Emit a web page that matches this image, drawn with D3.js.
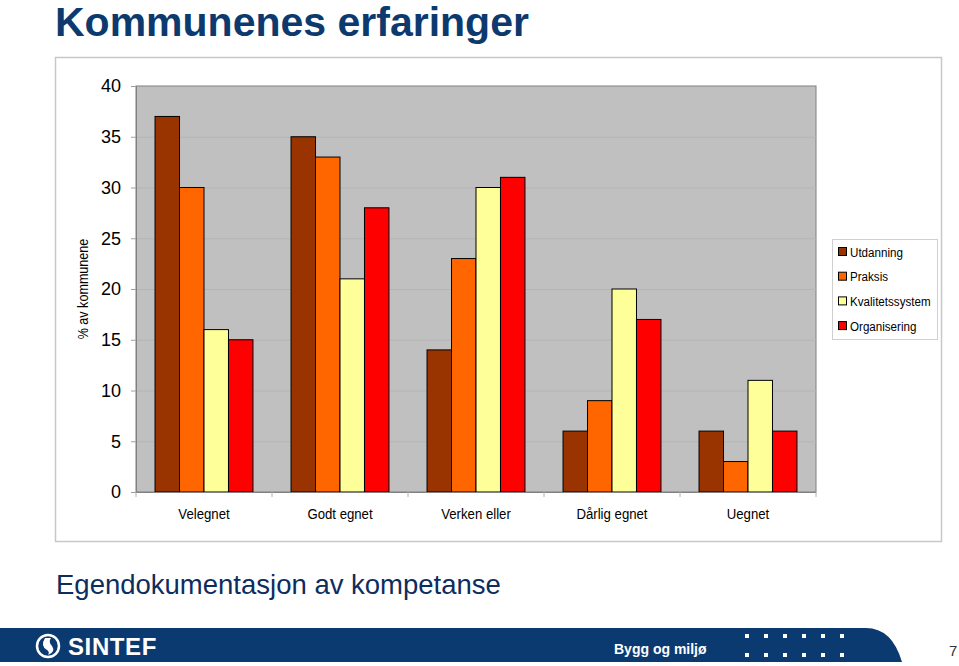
<!DOCTYPE html>
<html><head><meta charset="utf-8">
<script src="https://cdn.jsdelivr.net/npm/d3@7"></script>
<style>body{margin:0;background:#fff;}svg{display:block;font-family:"Liberation Sans",Arial,sans-serif;}</style>
</head><body>
<svg id="c" width="959" height="666"></svg>
<script>
const categories = ["Velegnet","Godt egnet","Verken eller","Dårlig egnet","Uegnet"];
const seriesNames = ["Utdanning","Praksis","Kvalitetssystem","Organisering"];
const utdanning = [37,35,14,6,6];
const praksis = [30,33,23,9,3];
const kvalitetssystem = [16,21,30,20,11];
const organisering = [15,28,31,17,6];
const yTicks = [0,5,10,15,20,25,30,35,40];
const colors = ["#993300","#FF6600","#FFFF99","#FF0000"];
const seriesValues = [utdanning, praksis, kvalitetssystem, organisering];

const svg = d3.select("#c");
// title
svg.append("text").attr("x",55).attr("y",36).attr("font-size",41).attr("font-weight","bold")
  .attr("fill","#0D3A6E").text("Kommunenes erfaringer");

// chart frame
svg.append("rect").attr("x",55.5).attr("y",57.5).attr("width",886).attr("height",484)
  .attr("fill","#fff").attr("stroke","#c8c8c8").attr("stroke-width",1.5);

const x0 = d3.scaleBand().domain(categories).range([136,816]).paddingInner(0.28).paddingOuter(0.14);
const x1 = d3.scaleBand().domain(seriesNames).range([0,x0.bandwidth()]);
const y = d3.scaleLinear().domain([0,40]).range([492,86]);

svg.append("rect").attr("x",136).attr("y",y(40)).attr("width",680).attr("height",y(0)-y(40))
  .attr("fill","#C0C0C0").attr("stroke","#808080").attr("stroke-width",1);

// gridlines
svg.append("g").selectAll("line").data(yTicks.filter(d=>d>0 && d<40)).join("line")
  .attr("x1",136).attr("x2",816).attr("y1",d=>y(d)+0.5).attr("y2",d=>y(d)+0.5)
  .attr("stroke","#B4B4B4").attr("stroke-width",1);

// bars
const g = svg.append("g");
categories.forEach((c,i)=>{
  seriesNames.forEach((s,j)=>{
    const v = seriesValues[j][i];
    g.append("rect").attr("x",x0(c)+x1(s)).attr("y",y(v)).attr("width",x1.bandwidth())
      .attr("height",y(0)-y(v)).attr("fill",colors[j]).attr("stroke","#000").attr("stroke-width",1);
  });
});

// y axis
const yAxis = d3.axisLeft(y).tickValues(yTicks).tickSize(5).tickPadding(10);
const ya = svg.append("g").attr("transform","translate(136,0)").call(yAxis);
ya.select(".domain").attr("stroke","#808080");
ya.selectAll(".tick line").attr("stroke","#a0a0a0");
ya.selectAll("text").attr("font-size",18).attr("fill","#000").attr("font-family","'Liberation Sans',Arial,sans-serif");

// x axis
const xa = svg.append("g").attr("transform","translate(0,492)");
xa.append("line").attr("x1",136).attr("x2",816).attr("y1",0.5).attr("y2",0.5).attr("stroke","#808080");
const step = 680/categories.length;
xa.selectAll(".tk").data(d3.range(categories.length+1)).join("line")
  .attr("x1",d=>136+d*step).attr("x2",d=>136+d*step).attr("y1",0).attr("y2",5).attr("stroke","#b0b0b0");
xa.selectAll("g.lbl").data(categories).join("g")
  .attr("transform",c=>`translate(${x0(c)+x0.bandwidth()/2},27) scale(0.88,1)`)
  .append("text").attr("text-anchor","middle").attr("font-size",15).attr("fill","#000").text(d=>d);

// y title
svg.append("text").attr("transform","translate(88,289) rotate(-90) scale(0.9,1)").attr("text-anchor","middle")
  .attr("font-size",14).text("% av kommunene");

// legend
const lg = svg.append("g");
lg.append("rect").attr("x",832.5).attr("y",239.5).attr("width",105).attr("height",100)
  .attr("fill","#fff").attr("stroke","#d0d0d0");
seriesNames.forEach((s,j)=>{
  const yy = 252 + j*24.7;
  lg.append("rect").attr("x",838.5).attr("y",yy-4.5).attr("width",8).attr("height",8)
    .attr("fill",colors[j]).attr("stroke","#000");
  lg.append("text").attr("transform",`translate(850,${yy+4.5}) scale(0.86,1)`).attr("font-size",13.5).text(s);
});

// subtitle
svg.append("text").attr("x",56).attr("y",594).attr("font-size",27.5).attr("fill","#0D2D5E")
  .text("Egendokumentasjon av kompetanse");

// footer band
svg.append("path").attr("d","M0,628 L866,628 Q892,628 902,662 L0,662 Z").attr("fill","#0B3A70");
// logo
svg.append("circle").attr("cx",48).attr("cy",646).attr("r",11).attr("fill","none").attr("stroke","#fff").attr("stroke-width",2.5);
svg.append("path").attr("d","M45,638 Q40,646 47,650 Q50,652 48,655 Q56,652 52,646 Q48,642 51,638 Z").attr("fill","#fff");
svg.append("text").attr("x",68).attr("y",655).attr("font-size",24).attr("font-weight","bold").attr("fill","#fff")
  .attr("letter-spacing",0.6).text("SINTEF");
svg.append("text").attr("x",614).attr("y",654).attr("font-size",14).attr("font-weight","bold").attr("fill","#fff").text("Bygg og miljø");
const dots = svg.append("g");
for(let r=0;r<2;r++) for(let k=0;k<6;k++){
  dots.append("rect").attr("x",745+k*19).attr("y",634+r*19).attr("width",4).attr("height",4).attr("fill","#fff");
}
svg.append("text").attr("x",949).attr("y",656).attr("font-size",15).attr("fill","#333").text("7");
</script>
</body></html>
